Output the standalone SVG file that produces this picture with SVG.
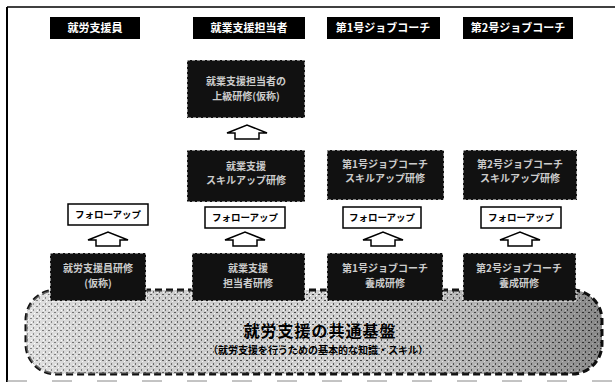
<svg xmlns="http://www.w3.org/2000/svg" width="615" height="387" viewBox="0 0 615 387">
<defs>
<style>
.hdr{fill:#000}
.hdrt{fill:#fff;font-family:"Noto Sans CJK JP","Noto Sans",sans-serif;font-weight:bold;font-size:11px;text-anchor:middle}
.blk{fill:#111;stroke:#fff;stroke-width:1;stroke-dasharray:3 2}
.blkt{fill:#ccc;font-family:"Noto Sans CJK JP","Noto Sans",sans-serif;font-weight:bold;font-size:10px;text-anchor:middle}
.fu{fill:#fff;stroke:#000;stroke-width:1.5}
.fut{fill:#000;font-family:"Noto Sans CJK JP","Noto Sans",sans-serif;font-weight:bold;font-size:9.5px;text-anchor:middle}
.arr{fill:#fff;stroke:#000;stroke-width:1.5;stroke-linejoin:miter}
</style>
<pattern id="stip" width="6" height="6" patternUnits="userSpaceOnUse">
<rect width="6" height="6" fill="#d0d0d0"/>
<rect x="0" y="0" width="2" height="1" fill="#444"/>
<rect x="3" y="3" width="1" height="2" fill="#555"/>
<rect x="4" y="1" width="1" height="1" fill="#fff"/>
<rect x="1" y="4" width="1" height="1" fill="#fff"/>
</pattern>
<linearGradient id="shade" x1="0" y1="0" x2="1" y2="0">
<stop offset="0" stop-color="#fff" stop-opacity="0.35"/>
<stop offset="0.5" stop-color="#888" stop-opacity="0"/>
<stop offset="1" stop-color="#000" stop-opacity="0.35"/>
</linearGradient>
<path id="up" d="M-12,6 L-12,0 L-20,0 L0,-8 L20,0 L12,0 L12,6 Z"/>
</defs>
<rect width="615" height="387" fill="#fff"/>
<g id="frame" fill="none" stroke="#000">
<line x1="7" y1="7" x2="615" y2="7" stroke-width="1.5"/>
<line x1="7" y1="7" x2="7" y2="382" stroke-width="2"/>
<line x1="7" y1="381" x2="615" y2="381" stroke="#888" stroke-dasharray="20 25"/>
</g>
<g id="base">
<rect x="26" y="290" width="576" height="84" rx="30" fill="url(#stip)" stroke="#111" stroke-width="3" stroke-dasharray="7 4"/>
<rect x="26" y="290" width="576" height="84" rx="30" fill="url(#shade)"/>
<text x="320" y="337" font-family="Noto Sans CJK JP,sans-serif" font-weight="bold" font-size="16" letter-spacing="1" text-anchor="middle" fill="#000">就労支援の共通基盤</text>
<text x="318" y="354" font-family="Noto Sans CJK JP,sans-serif" font-weight="bold" font-size="10" text-anchor="middle" fill="#000">（就労支援を行うための基本的な知識・スキル）</text>
</g>
<g id="h1"><rect class="hdr" x="50" y="17" width="90" height="22"/><text class="hdrt" x="95" y="32">就労支援員</text></g>
<g id="h2"><rect class="hdr" x="193" y="17" width="112" height="22"/><text class="hdrt" x="249" y="32">就業支援担当者</text></g>
<g id="h3"><rect class="hdr" x="327" y="17" width="113" height="22"/><text class="hdrt" x="383" y="32">第1号ジョブコーチ</text></g>
<g id="h4"><rect class="hdr" x="463" y="17" width="110" height="22"/><text class="hdrt" x="518" y="32">第2号ジョブコーチ</text></g>
<g id="top2"><rect class="blk" x="187" y="60" width="118" height="58"/><text class="blkt" x="246" y="85">就業支援担当者の</text><text class="blkt" x="246" y="100">上級研修(仮称)</text></g>
<g id="m2"><rect class="blk" x="187" y="150" width="118" height="52"/><text class="blkt" x="246" y="170">就業支援</text><text class="blkt" x="246" y="184">スキルアップ研修</text></g>
<g id="m3"><rect class="blk" x="327" y="150" width="117" height="50"/><text class="blkt" x="385" y="168">第1号ジョブコーチ</text><text class="blkt" x="385" y="182">スキルアップ研修</text></g>
<g id="m4"><rect class="blk" x="463" y="150" width="114" height="50"/><text class="blkt" x="520" y="168">第2号ジョブコーチ</text><text class="blkt" x="520" y="182">スキルアップ研修</text></g>
<g id="b1"><rect class="blk" x="50" y="253" width="96" height="48"/><text class="blkt" x="98" y="272">就労支援員研修</text><text class="blkt" x="98" y="287">(仮称)</text></g>
<g id="b2"><rect class="blk" x="192" y="253" width="113" height="48"/><text class="blkt" x="248" y="272">就業支援</text><text class="blkt" x="248" y="287">担当者研修</text></g>
<g id="b3"><rect class="blk" x="327" y="253" width="116" height="48"/><text class="blkt" x="385" y="272">第1号ジョブコーチ</text><text class="blkt" x="385" y="287">養成研修</text></g>
<g id="b4"><rect class="blk" x="463" y="253" width="113" height="48"/><text class="blkt" x="519" y="272">第2号ジョブコーチ</text><text class="blkt" x="519" y="287">養成研修</text></g>
<g id="f1"><rect class="fu" x="68" y="204" width="80" height="21"/><text class="fut" x="108" y="218">フォローアップ</text></g>
<g id="f2"><rect class="fu" x="205" y="207" width="80" height="21"/><text class="fut" x="245" y="221">フォローアップ</text></g>
<g id="f3"><rect class="fu" x="343" y="207" width="78" height="21"/><text class="fut" x="382" y="221">フォローアップ</text></g>
<g id="f4"><rect class="fu" x="481" y="207" width="80" height="21"/><text class="fut" x="521" y="221">フォローアップ</text></g>
<g id="connectors">
<use href="#up" class="arr" x="247" y="133"/>
<use href="#up" class="arr" x="108" y="240"/>
<use href="#up" class="arr" x="245" y="240"/>
<use href="#up" class="arr" x="383" y="240"/>
<use href="#up" class="arr" x="520" y="240"/>
</g>
</svg>
